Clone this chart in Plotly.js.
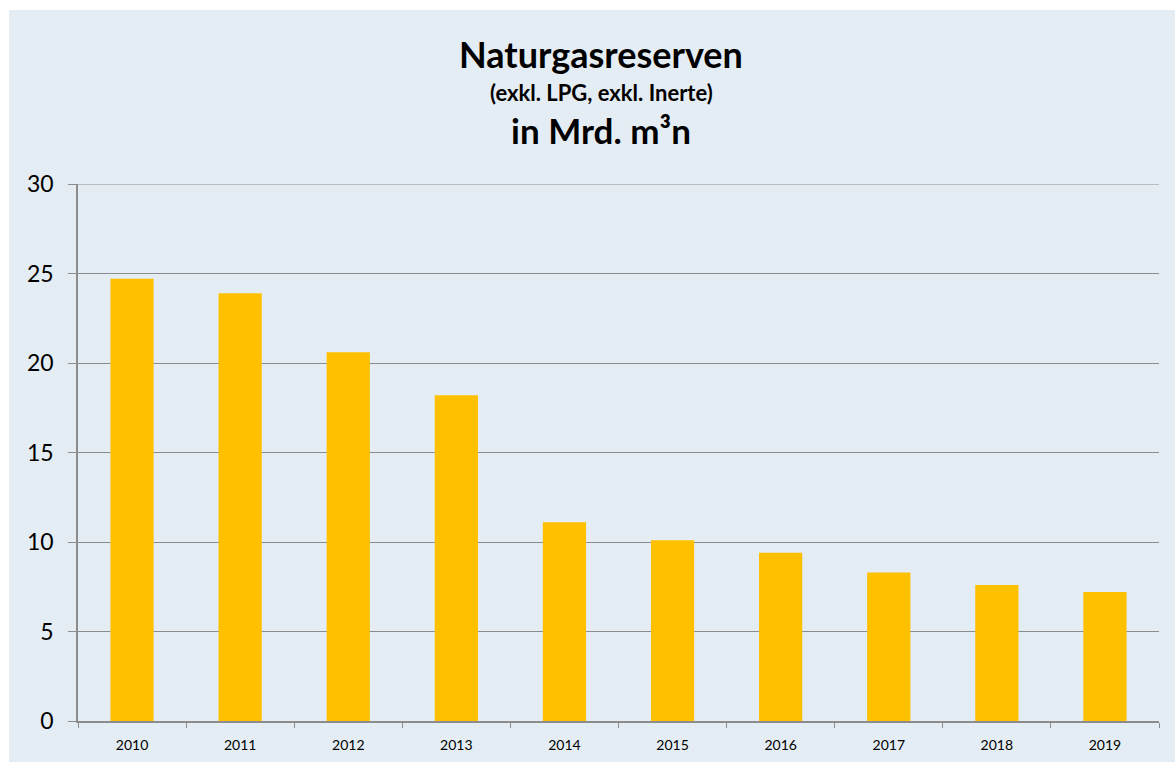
<!DOCTYPE html>
<html>
<head>
<meta charset="utf-8">
<script src="https://cdn.plot.ly/plotly-3.0.1.min.js"></script>
<style>
html,body{margin:0;padding:0;background:#ffffff;}
#chart{position:absolute;left:9px;top:10px;width:1166px;height:752px;}
</style>
</head>
<body>
<div id="chart"></div>
<script>
const years = ["2010","2011","2012","2013","2014","2015","2016","2017","2018","2019"];
const reserves = [24.7, 23.9, 20.6, 18.2, 11.1, 10.1, 9.4, 8.3, 7.6, 7.2];
const yTicks = [0, 5, 10, 15, 20, 25, 30];
const titleLines = ["Naturgasreserven", "(exkl. LPG, exkl. Inerte)", "in Mrd. m³n"];

const trace = {
  type: "bar",
  x: years,
  y: reserves,
  marker: {color: "#FFC000"},
  hoverinfo: "x+y"
};

const fam = "Lato, 'Open Sans', sans-serif";

const layout = {
  width: 1166,
  height: 752,
  paper_bgcolor: "#E5EDF4",
  plot_bgcolor: "rgba(0,0,0,0)",
  margin: {l: 69, r: 16, t: 174, b: 41, pad: 0},
  bargap: 0.6,
  showlegend: false,
  font: {family: fam, color: "#000000"},
  annotations: [
    {text: "<b>" + titleLines[0] + "</b>", xref: "paper", yref: "paper", x: 0.484, y: 1.243,
     xanchor: "center", yanchor: "middle", showarrow: false, font: {family: fam, size: 36, color: "#000"}},
    {text: "<b>" + titleLines[1] + "</b>", xref: "paper", yref: "paper", x: 0.484, y: 1.1695,
     xanchor: "center", yanchor: "middle", showarrow: false, font: {family: fam, size: 22, color: "#000"}},
    {text: "<b>" + titleLines[2] + "</b>", xref: "paper", yref: "paper", x: 0.484, y: 1.1006,
     xanchor: "center", yanchor: "middle", showarrow: false, font: {family: fam, size: 35, color: "#000"}}
  ],
  shapes: [
    {type: "line", xref: "paper", yref: "y", x0: 0, x1: 1, y0: 30, y1: 30,
     line: {color: "#8C8C8C", width: 1.2}, layer: "below"}
  ],
  xaxis: {
    type: "category",
    showline: true,
    linecolor: "#8C8C8C",
    linewidth: 1.5,
    ticks: "outside",
    tickson: "boundaries",
    ticklen: 5,
    tickcolor: "#8C8C8C",
    showgrid: false,
    tickfont: {size: 14, color: "#000000"},
    ticklabelstandoff: 10
  },
  yaxis: {
    range: [0, 30],
    tickvals: yTicks,
    showline: true,
    linecolor: "#8C8C8C",
    linewidth: 1.5,
    ticks: "outside",
    ticklen: 8,
    tickcolor: "#8C8C8C",
    showgrid: true,
    gridcolor: "#8C8C8C",
    gridwidth: 1.2,
    zeroline: false,
    tickfont: {size: 23, color: "#000000"},
    ticklabelstandoff: 10
  }
};

Plotly.newPlot("chart", [trace], layout, {displayModeBar: false});
</script>
</body>
</html>
